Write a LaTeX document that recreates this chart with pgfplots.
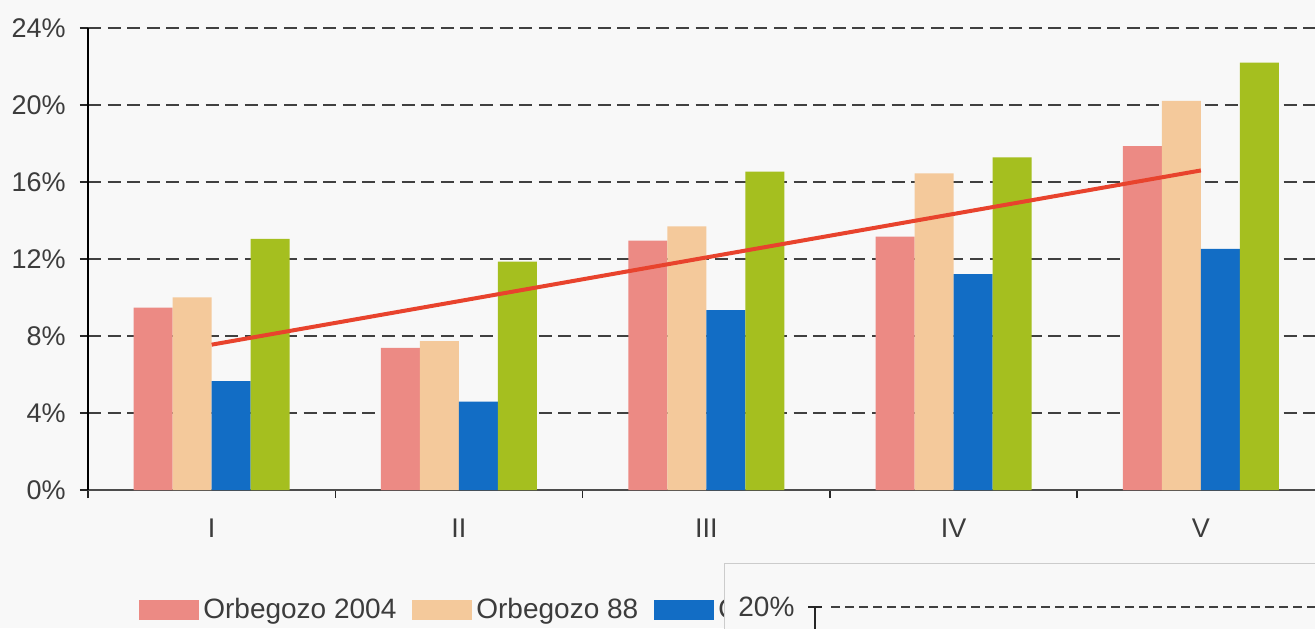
\documentclass[border=0pt]{standalone}
\usepackage{fontspec}
\setmainfont{Liberation Sans}
\usepackage{pgfplots}
\pgfplotsset{compat=1.18}
\definecolor{bg}{HTML}{F8F8F8}
\definecolor{cpink}{HTML}{EC8A84}
\definecolor{cpeach}{HTML}{F4C99B}
\definecolor{cblue}{HTML}{126DC5}
\definecolor{cgreen}{HTML}{A5BF1F}
\definecolor{cred}{HTML}{E8432D}
\definecolor{txt}{HTML}{3C3C3C}
\pgfplotsset{
  /pgfplots/ybar legend/.style={
    /pgfplots/legend image code/.code={\fill[##1] (0pt,-5pt) rectangle (30pt,5pt);}},
}
\begin{document}
\begin{tikzpicture}
\useasboundingbox (0,0) rectangle (657.5pt,314pt);
\fill[bg] (0,0) rectangle (657.5pt,314pt);
\begin{axis}[
  at={(44pt,69pt)}, anchor=south west,
  scale only axis, width=618.25pt, height=231pt,
  xmin=-0.5, xmax=4.5, ymin=0, ymax=24,
  axis lines=left, axis line style={-},
  x axis line style={draw=black!70, line width=1pt},
  y axis line style={draw=black, line width=0.75pt},
  ybar=0pt, bar width=19.5pt,
  ytick={0,4,...,24}, yticklabels={0\%,4\%,8\%,12\%,16\%,20\%,24\%},
  ymajorgrids, grid style={black!75, line width=1.1pt, dash pattern=on 6.5pt off 3.3pt},
  tick align=outside, major tick length=4pt,
  tick style={draw=black!85, line width=0.75pt},
  xtick={-0.5,0.5,...,4.5}, xticklabels={},
  extra x ticks={0,1,2,3,4}, extra x tick labels={I,II,III,IV,V},
  extra x tick style={xtick style={draw=none}},
  tick label style={font=\fontsize{13.5}{16}\selectfont, text=txt},
  yticklabel style={inner sep=0pt, xshift=-7pt},
  xticklabel style={inner sep=0pt, yshift=-10.5pt},
  legend columns=3,
  legend style={at={(axis description cs:0.0412,-0.26)}, anchor=west,
    draw=none, fill=none, inner sep=0pt, text=txt,
    font=\fontsize{14}{16}\selectfont,
    /tikz/every even column/.append style={column sep=6pt}},
  legend cell align=left,
]
\addplot[fill=cpink, draw=none] coordinates {(0,9.47) (1,7.39) (2,12.95) (3,13.16) (4,17.87)};
\addplot[fill=cpeach, draw=none] coordinates {(0,10.01) (1,7.74) (2,13.70) (3,16.45) (4,20.22)};
\addplot[fill=cblue, draw=none] coordinates {(0,5.66) (1,4.59) (2,9.35) (3,11.22) (4,12.52)};
\addplot[fill=cgreen, draw=none] coordinates {(0,13.05) (1,11.86) (2,16.54) (3,17.28) (4,22.20)};
\addplot[sharp plot, cred, line width=2pt, forget plot] coordinates {(0,7.55) (1,9.81) (2,12.08) (3,14.34) (4,16.60)};
\legend{Orbegozo 2004, Orbegozo 88, O}
\end{axis}
% overlapping fragment of another chart in the screenshot
\draw[black!20, fill=bg] (362pt,-5pt) rectangle (700pt,32.5pt);
\node[anchor=west, inner sep=0pt, text=txt, font=\fontsize{14}{16}\selectfont] at (369pt,10.5pt) {20\%};
\draw[black!75, line width=1.1pt, dash pattern=on 4.5pt off 2.5pt] (415.5pt,10.5pt) -- (660pt,10.5pt);
\draw[black!85, line width=0.75pt] (404pt,10.5pt) -- (411pt,10.5pt) (407.5pt,10.5pt) -- (407.5pt,-2pt);
\end{tikzpicture}
\end{document}
